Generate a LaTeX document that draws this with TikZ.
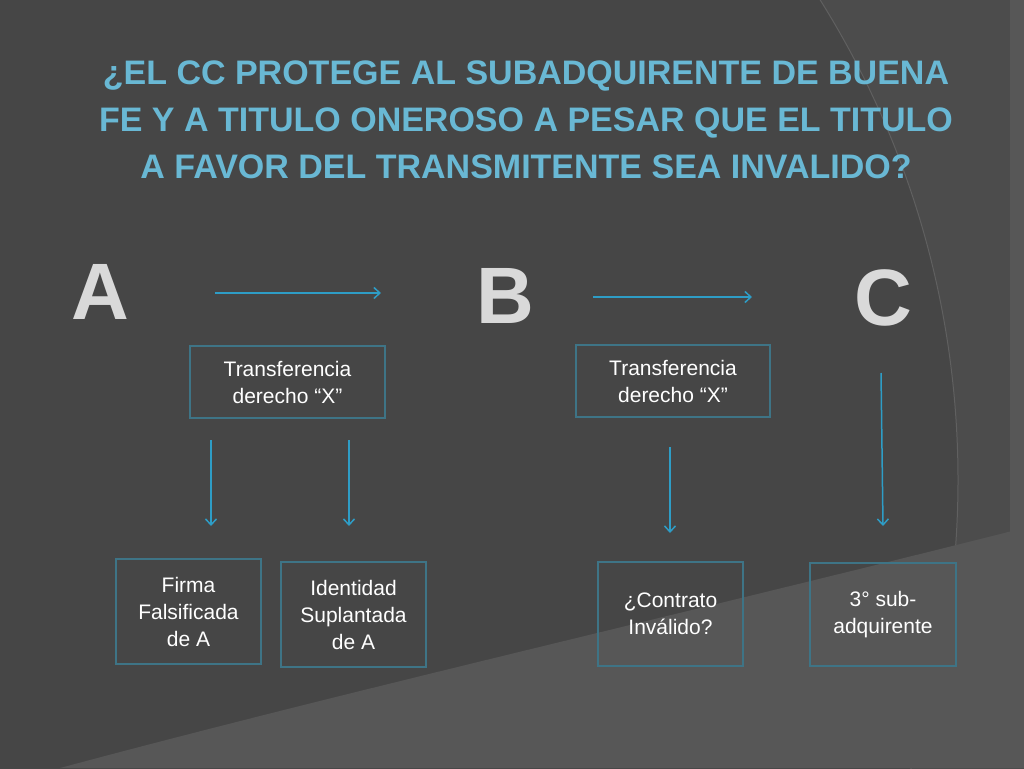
\documentclass[tikz,border=0pt]{standalone}
\usepackage{fontspec}
\setmainfont{Liberation Sans}
\usetikzlibrary{arrows.meta}
\definecolor{bg}{HTML}{464646}
\definecolor{bgr}{HTML}{4C4C4C}
\definecolor{bgl}{HTML}{575757}
\definecolor{ttl}{HTML}{69B8D4}
\definecolor{boxc}{HTML}{3E7486}
\definecolor{arr}{HTML}{2E9DC6}
\begin{document}
\begin{tikzpicture}[x=1pt,y=-1pt,
  tbox/.style={draw=boxc,line width=1.5pt,align=center,text=white,font=\fontsize{21}{27}\selectfont,inner sep=0pt},
  conn/.style={draw=arr,line width=1.5pt,-{Straight Barb[length=6pt,width=11pt]}},
  big/.style={font=\fontsize{80}{80}\bfseries\selectfont,text=gray!30!white},
  ttlf/.style={font=\fontsize{34}{47}\bfseries\selectfont,text=ttl,align=center}]
\useasboundingbox (0,0) rectangle (1024,768);
\fill[bg] (0,0) rectangle (1024,768);
\begin{scope}
\clip (0,0) rectangle (1024,768);
\fill[bgr] (54,480) circle (904) (0,0) rectangle (1100,800);
\fill[bg] (54,480) circle (904);
\draw[gray!45!bg,line width=1pt] (54,480) circle (904);
\fill[bgl] (60,768) .. controls (350,690) and (700,610) .. (1024,528) -- (1024,768) -- cycle;
\fill[bgl] (1010,0) rectangle (1024,768);
\end{scope}
\node[ttlf] (title) at (526,120) {¿EL CC PROTEGE AL SUBADQUIRENTE DE BUENA\\FE Y A TITULO ONEROSO A PESAR QUE EL TITULO\\A FAVOR DEL TRANSMITENTE SEA INVALIDO?};
\node[big] (A) at (100,292) {A};
\node[big] (B) at (505,296) {B};
\node[big] (C) at (883,298) {C};
\node[tbox,minimum width=195pt,minimum height=72pt] (t1) at (287.5,382) {Transferencia\\derecho “X”};
\node[tbox,minimum width=194pt,minimum height=72pt] (t2) at (673,381) {Transferencia\\derecho “X”};
\node[tbox,minimum width=145pt,minimum height=105pt] (f) at (188.5,611.5) {Firma\\Falsificada\\de A};
\node[tbox,minimum width=145pt,minimum height=105pt] (i) at (353.5,614.5) {Identidad\\Suplantada\\de A};
\node[tbox,minimum width=145pt,minimum height=104pt] (c) at (670.5,614) {¿Contrato\\Inválido?};
\node[tbox,minimum width=146pt,minimum height=103pt] (s) at (883,614.5) {3° sub-\\adquirente};
\coordinate (h1a) at (215,293); \coordinate (h1b) at (381,293);
\coordinate (h2a) at (593,297); \coordinate (h2b) at (752,297);
\coordinate (v1a) at (211,440); \coordinate (v1b) at (211,526);
\coordinate (v2a) at (349,440); \coordinate (v2b) at (349,526);
\coordinate (v3a) at (670,447); \coordinate (v3b) at (670,533);
\coordinate (v4a) at (881,373); \coordinate (v4b) at (883,526);
\draw[conn] (h1a) -- (h1b);
\draw[conn] (h2a) -- (h2b);
\draw[conn] (v1a) -- (v1b);
\draw[conn] (v2a) -- (v2b);
\draw[conn] (v3a) -- (v3b);
\draw[conn] (v4a) -- (v4b);
\end{tikzpicture}
\end{document}
